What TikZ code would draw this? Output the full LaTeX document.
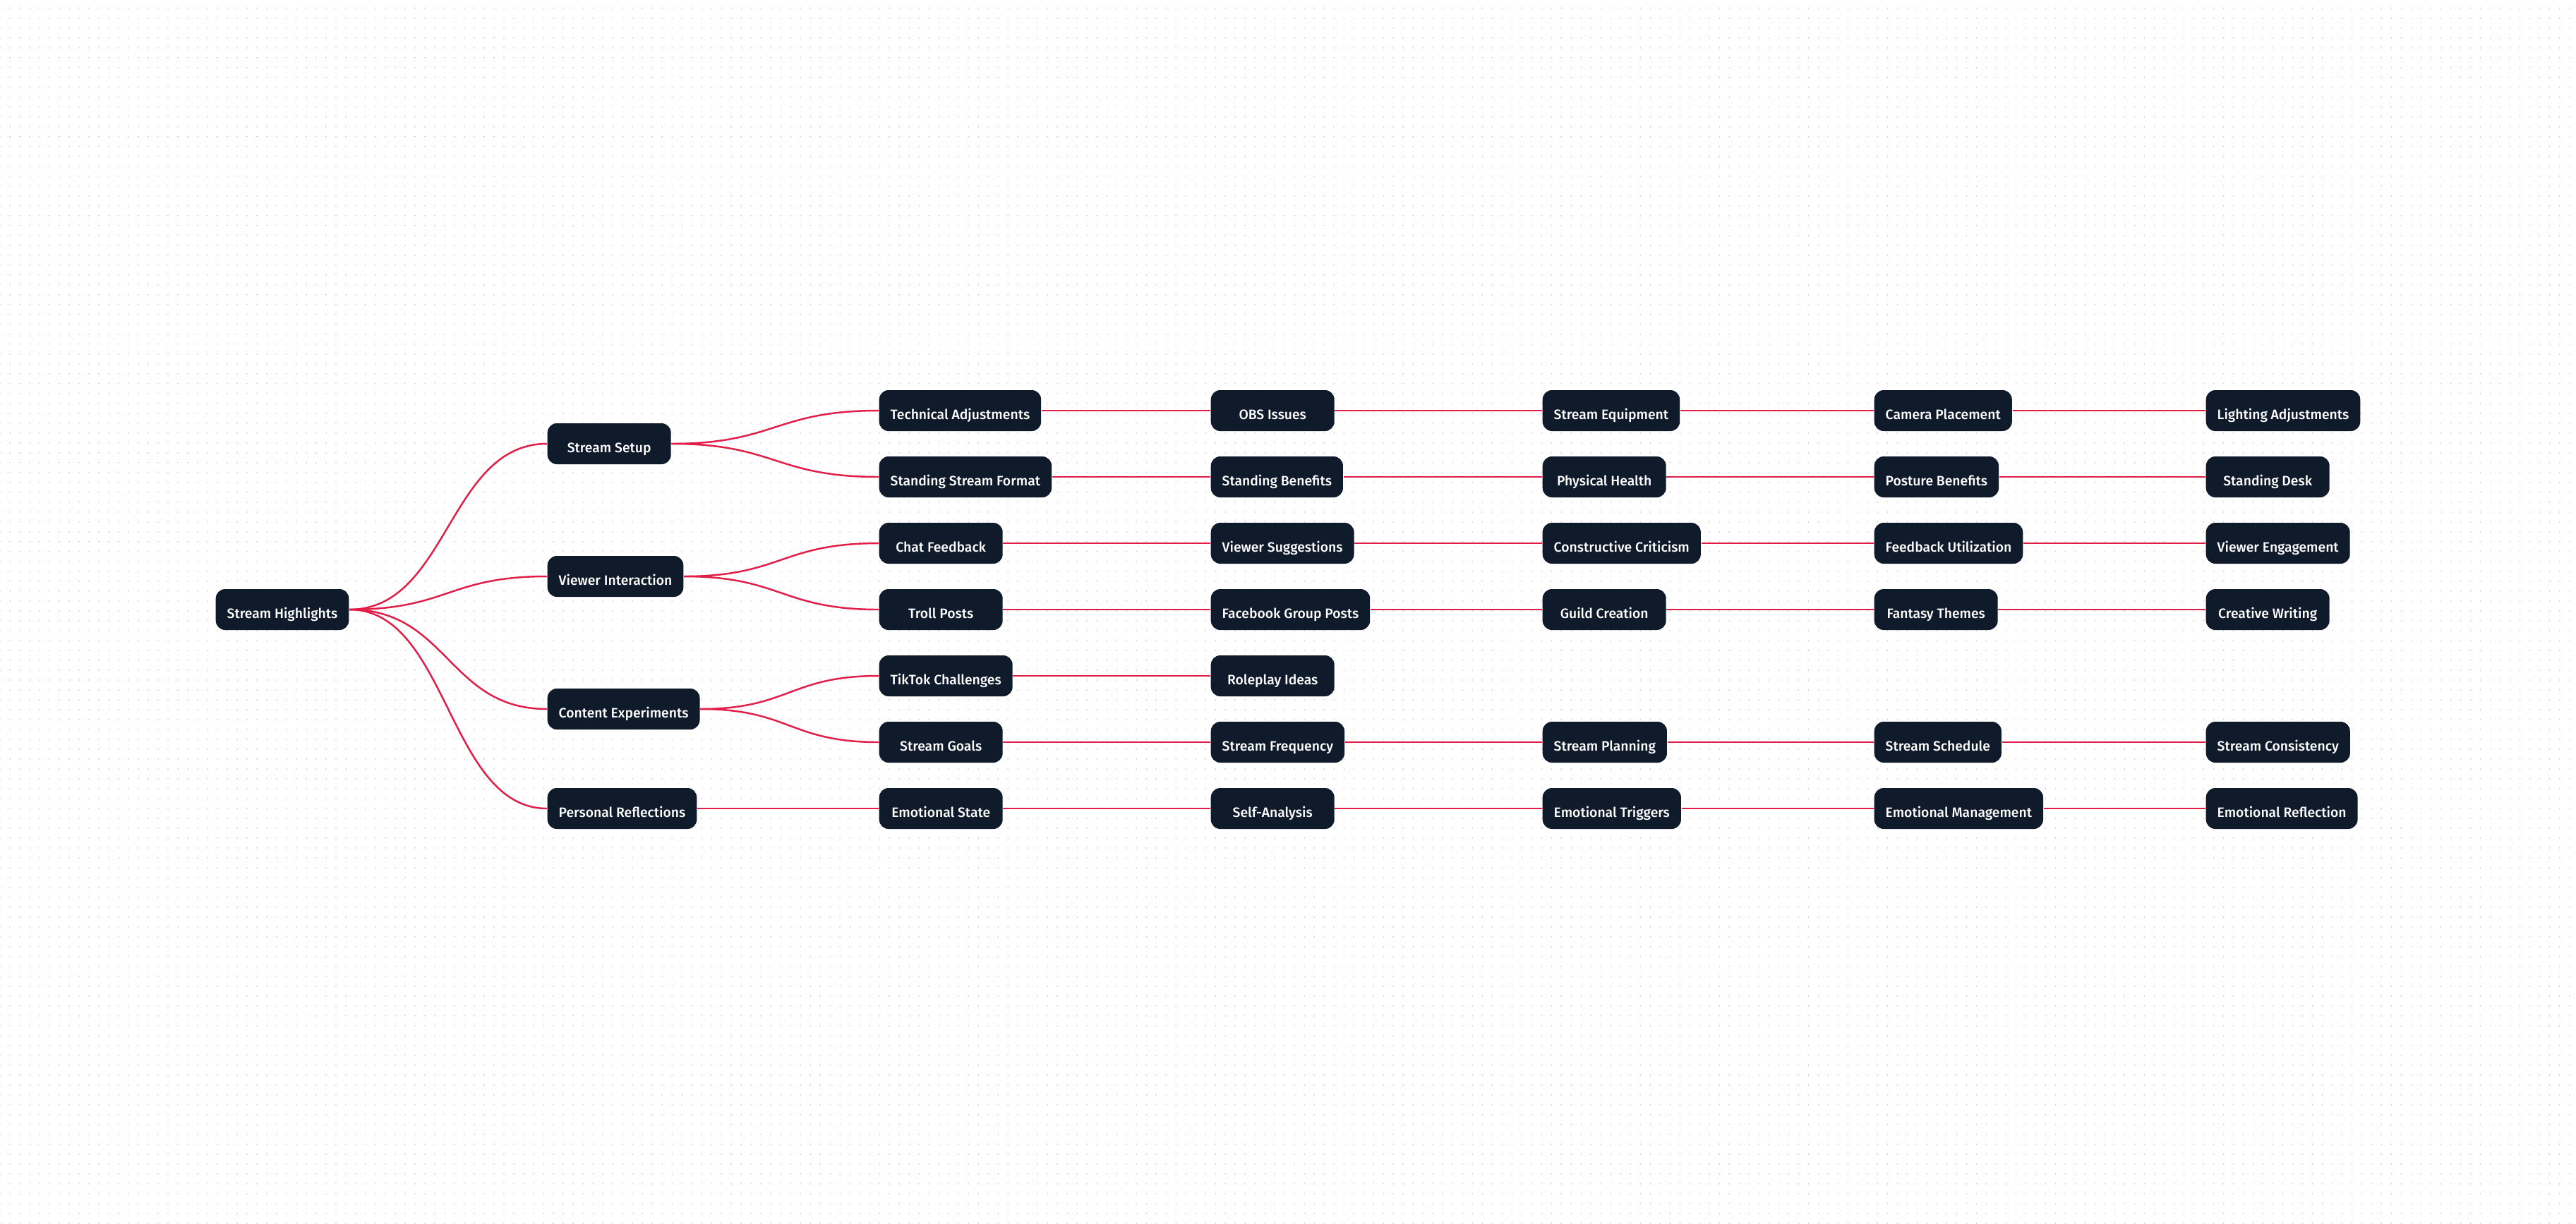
\documentclass[tikz,border=0pt]{standalone}
\usepackage{fontspec}
\setmainfont{Fira Sans}[UprightFont=* Medium]
\usetikzlibrary{calc,patterns}
\definecolor{boxnavy}{HTML}{0F1B2A}
\definecolor{linkred}{HTML}{E11D48}
\definecolor{dotgray}{HTML}{C8C8C8}
\pgfdeclarepatternformonly{griddots}{\pgfqpoint{-0.5pt}{-0.5pt}}{\pgfqpoint{0.5pt}{0.5pt}}{\pgfqpoint{3.984pt}{3.984pt}}{%
  \pgfpathcircle{\pgfqpoint{0pt}{0pt}}{0.25pt}\pgfusepath{fill}}

\begin{document}
\begin{tikzpicture}[
    topic/.style={fill=boxnavy, text=white, rounded corners=3.8pt, minimum height=0.58cm, minimum width=1.75cm,
      inner xsep=0.16cm, inner ysep=0pt, text height=0.69em, text depth=0pt, anchor=west, font=\fontsize{5.5}{7}\selectfont},
    link/.style={draw=linkred, line width=0.7pt},
    curve/.style={to path={let \p1=(\tikztostart), \p2=(\tikztotarget) in
      .. controls ({(\x1+\x2)/2},\y1) and ({(\x1+\x2)/2},\y2) .. (\tikztotarget)}}
]
% Background with dot grid
\fill[white] (0,0) rectangle (36.5,-17.34);
\fill[pattern=griddots, pattern color=dotgray] (0,0) rectangle (36.5,-17.34);
\useasboundingbox (0,0) rectangle (36.5,-17.34);

% Root
\node[topic] (root) at (3.05,-8.64) {Stream Highlights};

% Level 1
\node[topic] (setup) at (7.75,-6.29) {Stream Setup};
\node[topic] (viewer) at (7.75,-8.17) {Viewer Interaction};
\node[topic] (content) at (7.75,-10.05) {Content Experiments};
\node[topic] (personal) at (7.75,-11.46) {Personal Reflections};

% Level 2
\node[topic] (tech) at (12.45,-5.82) {Technical Adjustments};
\node[topic] (standfmt) at (12.45,-6.76) {Standing Stream Format};
\node[topic] (chat) at (12.45,-7.70) {Chat Feedback};
\node[topic] (troll) at (12.45,-8.64) {Troll Posts};
\node[topic] (tiktok) at (12.45,-9.58) {TikTok Challenges};
\node[topic] (goals) at (12.45,-10.52) {Stream Goals};
\node[topic] (emostate) at (12.45,-11.46) {Emotional State};

% Level 3
\node[topic] (obs) at (17.15,-5.82) {OBS Issues};
\node[topic] (standben) at (17.15,-6.76) {Standing Benefits};
\node[topic] (suggest) at (17.15,-7.70) {Viewer Suggestions};
\node[topic] (fbposts) at (17.15,-8.64) {Facebook Group Posts};
\node[topic] (roleplay) at (17.15,-9.58) {Roleplay Ideas};
\node[topic] (freq) at (17.15,-10.52) {Stream Frequency};
\node[topic] (selfan) at (17.15,-11.46) {Self-Analysis};

% Level 4
\node[topic] (equip) at (21.85,-5.82) {Stream Equipment};
\node[topic] (health) at (21.85,-6.76) {Physical Health};
\node[topic] (critic) at (21.85,-7.70) {Constructive Criticism};
\node[topic] (guild) at (21.85,-8.64) {Guild Creation};
\node[topic] (planning) at (21.85,-10.52) {Stream Planning};
\node[topic] (triggers) at (21.85,-11.46) {Emotional Triggers};

% Level 5
\node[topic] (camera) at (26.55,-5.82) {Camera Placement};
\node[topic] (posture) at (26.55,-6.76) {Posture Benefits};
\node[topic] (feedback) at (26.55,-7.70) {Feedback Utilization};
\node[topic] (fantasy) at (26.55,-8.64) {Fantasy Themes};
\node[topic] (schedule) at (26.55,-10.52) {Stream Schedule};
\node[topic] (emomgmt) at (26.55,-11.46) {Emotional Management};

% Level 6
\node[topic] (lighting) at (31.25,-5.82) {Lighting Adjustments};
\node[topic] (desk) at (31.25,-6.76) {Standing Desk};
\node[topic] (engage) at (31.25,-7.70) {Viewer Engagement};
\node[topic] (writing) at (31.25,-8.64) {Creative Writing};
\node[topic] (consist) at (31.25,-10.52) {Stream Consistency};
\node[topic] (emorefl) at (31.25,-11.46) {Emotional Reflection};

% Branching connectors
\foreach \a/\b in {root/setup, root/viewer, root/content, root/personal,
    setup/tech, setup/standfmt, viewer/chat, viewer/troll, content/tiktok, content/goals}
  \draw[link] (\a.east) to[curve] (\b.west);

% Straight chains
\foreach \a/\b in {personal/emostate,
    tech/obs, obs/equip, equip/camera, camera/lighting,
    standfmt/standben, standben/health, health/posture, posture/desk,
    chat/suggest, suggest/critic, critic/feedback, feedback/engage,
    troll/fbposts, fbposts/guild, guild/fantasy, fantasy/writing,
    tiktok/roleplay,
    goals/freq, freq/planning, planning/schedule, schedule/consist,
    emostate/selfan, selfan/triggers, triggers/emomgmt, emomgmt/emorefl}
  \draw[link] (\a.east) -- (\b.west);
\end{tikzpicture}
\end{document}
